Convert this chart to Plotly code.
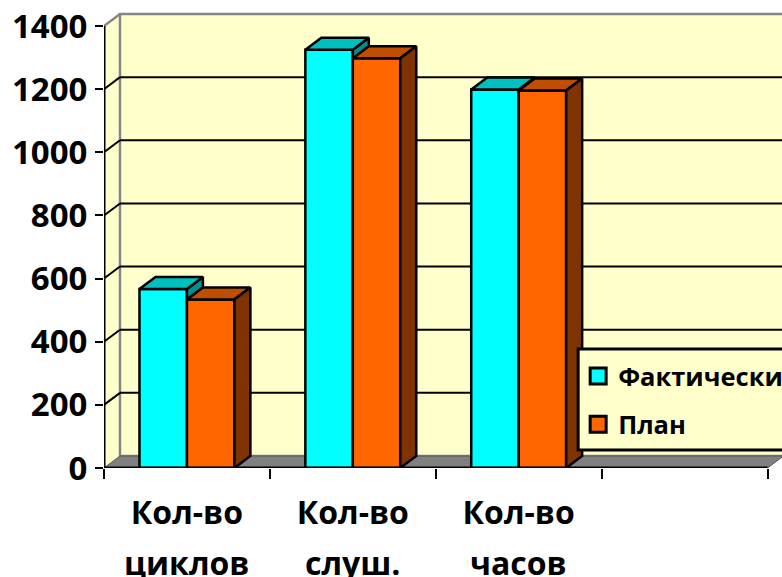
import plotly.graph_objects as go

categories_line1 = ["Кол-во", "Кол-во", "Кол-во"]
categories_line2 = ["циклов", "слуш.", "часов"]
fact_values = [567, 1325, 1199]
plan_values = [534, 1298, 1196]
series_names = ["Фактически", "План"]
y_ticks = [0, 200, 400, 600, 800, 1000, 1200, 1400]

FONT = "Open Sans"
BLACK = "#000000"
WALL = "#FFFFCC"
EDGE = "#868686"
FLOOR = "#808080"
FACT, FACT_TOP, FACT_SIDE = "#00FFFF", "#00BFBF", "#008F8F"
PLAN, PLAN_TOP, PLAN_SIDE = "#FF6600", "#BF4F00", "#7F3300"

W, H = 782, 577
L, B, T = 103.5, 109, 10
PX_X, PX_Y = 166, 442 / 1400
DX, DY = 16 / PX_X, 12 / PX_Y
X0, XE = -0.5, 3.5
BAR_W = 47.5 / PX_X
X_TOP = X0 + (W - L) / PX_X
Y_TOP = (H - B - T) / PX_Y
OUTLINE = 2.5


def poly(points, fill, line=BLACK, width=OUTLINE):
    return go.Scatter(x=[p[0] for p in points] + [points[0][0]],
                      y=[p[1] for p in points] + [points[0][1]],
                      mode="lines", fill="toself", fillcolor=fill,
                      line=dict(color=line, width=width),
                      hoverinfo="skip", showlegend=False, cliponaxis=False)


def seg(xs, ys, color=BLACK, width=2):
    return go.Scatter(x=xs, y=ys, mode="lines", line=dict(color=color, width=width),
                      hoverinfo="skip", showlegend=False, cliponaxis=False)


fig = go.Figure()
xs = list(range(len(fact_values)))
fig.add_bar(x=xs, y=fact_values, name=series_names[0], marker=dict(color=FACT, line=dict(color=BLACK, width=OUTLINE)), showlegend=False)
fig.add_bar(x=xs, y=plan_values, name=series_names[1], marker=dict(color=PLAN, line=dict(color=BLACK, width=OUTLINE)), showlegend=False)

for i, f, p in zip(xs, fact_values, plan_values):
    a, m, b = i - BAR_W, i, i + BAR_W
    fig.add_trace(poly([(m, max(p, 0)), (m, f), (m + DX, f + DY), (m + DX, p + DY)], FACT_SIDE))
    fig.add_trace(poly([(a, f), (a + DX, f + DY), (m + DX, f + DY), (m, f)], FACT_TOP))
    fig.add_trace(poly([(m, p), (m + DX, p + DY), (b + DX, p + DY), (b, p)], PLAN_TOP))
    fig.add_trace(poly([(b, 0), (b, p), (b + DX, p + DY), (b + DX, DY)], PLAN_SIDE))

# axis lines
fig.add_trace(seg([X0, X0], [0, 1400], BLACK, 3))
fig.add_trace(seg([X0, XE], [0, 0], BLACK, 3))

# legend-only entries
fig.add_trace(go.Scatter(x=[None], y=[None], mode="markers", name=series_names[0], legendgroup="a",
                         marker=dict(symbol="square", size=16, color=FACT, line=dict(color=BLACK, width=3))))
fig.add_trace(go.Scatter(x=[None], y=[None], mode="markers", name=series_names[1], legendgroup="b",
                         marker=dict(symbol="square", size=16, color=PLAN, line=dict(color=BLACK, width=3))))

shapes = []
def path(points):
    return "M" + "L".join(f"{x},{y}" for x, y in points) + "Z"

shapes.append(dict(type="path", path=path([(X0, 0), (X0 + DX, DY), (X0 + DX, 1400 + DY), (X0, 1400)]),
                   fillcolor=WALL, line=dict(width=0), layer="below"))
shapes.append(dict(type="rect", x0=X0 + DX, x1=X_TOP + 0.1, y0=DY, y1=1400 + DY, fillcolor=WALL,
                   line=dict(color=EDGE, width=2.5), layer="below"))
shapes.append(dict(type="path", path=path([(X0, 0), (XE, 0), (XE + DX, DY), (X0 + DX, DY)]),
                   fillcolor=FLOOR, line=dict(color="#555555", width=1), layer="below"))
shapes.append(dict(type="line", x0=X0, x1=X0 + DX, y0=1400, y1=1400 + DY, line=dict(color=EDGE, width=2.5), layer="below"))
for v in y_ticks[1:-1]:
    shapes.append(dict(type="line", x0=X0, x1=X0 + DX, y0=v, y1=v + DY, line=dict(color=BLACK, width=2), layer="below"))
    shapes.append(dict(type="line", x0=X0 + DX, x1=X_TOP + 0.1, y0=v + DY, y1=v + DY, line=dict(color=BLACK, width=2), layer="below"))

# legend panel
PW, PH = W - L, H - B - T
shapes.append(dict(type="rect", xref="paper", yref="paper", x0=(578 - L) / PW, x1=(W + 10 - L) / PW,
                   y0=(H - B - 450) / PH, y1=(H - B - 349) / PH, fillcolor=WALL,
                   line=dict(color=BLACK, width=3), layer="above"))

TICK_FONT = dict(family=FONT, size=32, color=BLACK, weight=700)
annotations = [dict(x=i, y=0, xref="x", yref="y", yanchor="middle", yshift=-94, text=t, showarrow=False,
                    font=TICK_FONT)
               for i, t in zip(xs, categories_line2)]

fig.update_layout(
    width=W, height=H, margin=dict(l=L, r=0, t=T, b=B, autoexpand=False),
    paper_bgcolor="#FFFFFF", plot_bgcolor="rgba(0,0,0,0)",
    barmode="group", bargap=1 - 2 * BAR_W, bargroupgap=0,
    font=dict(family=FONT, color=BLACK),
    shapes=shapes, annotations=annotations,
    legend=dict(x=(578 - L) / PW, y=(H - B - 353) / PH, xanchor="left", yanchor="top",
                bgcolor="rgba(0,0,0,0)", borderwidth=0, tracegroupgap=12,
                font=dict(family=FONT, size=25.5, color=BLACK, weight=700), itemsizing="trace",
                traceorder="grouped", entrywidth=170, entrywidthmode="pixels", itemclick=False),
    xaxis=dict(range=[X0, X_TOP], showgrid=False, zeroline=False, showline=False,
               tickmode="array", tickvals=xs, ticktext=categories_line1, ticks="",
               ticklabelstandoff=23, tickfont=TICK_FONT,
               minor=dict(tickmode="array", tickvals=[X0 + k for k in range(5)], ticks="outside", ticklen=10, tickwidth=2, tickcolor=BLACK, showgrid=False)),
    yaxis=dict(range=[0, Y_TOP], showgrid=False, zeroline=False, showline=False,
               tickmode="array", tickvals=y_ticks, ticks="outside", ticklen=8, tickwidth=2, tickcolor=BLACK,
               tickfont=dict(family=FONT, size=33, color=BLACK, weight=700), ticklabelstandoff=1),
)
fig.write_html("out.html", config=dict(displayModeBar=False), post_script="document.body.style.margin='0';")
